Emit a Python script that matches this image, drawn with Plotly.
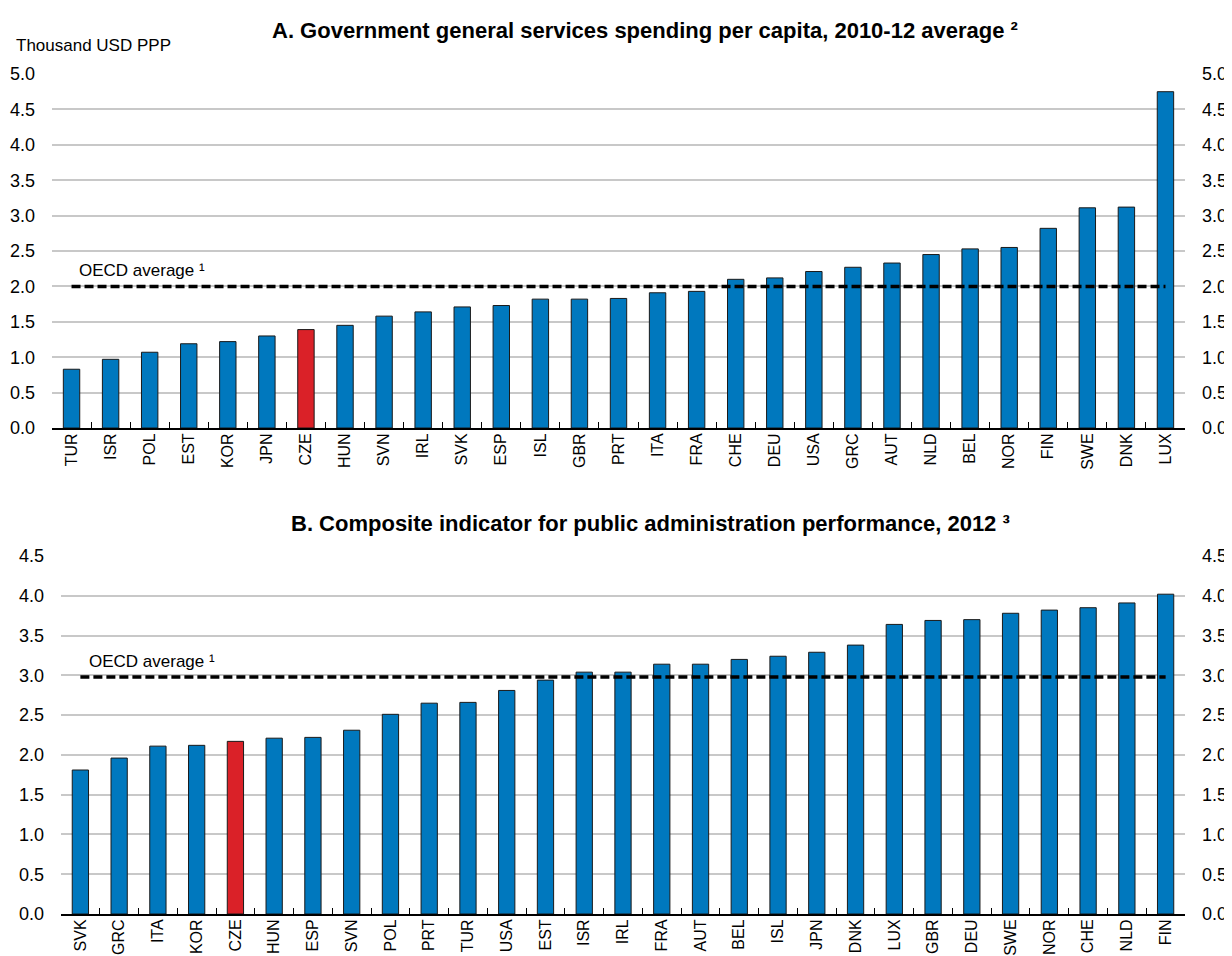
import plotly.graph_objects as go

# ---------------- data ----------------
cats_a = ["TUR", "ISR", "POL", "EST", "KOR", "JPN", "CZE", "HUN", "SVN", "IRL",
          "SVK", "ESP", "ISL", "GBR", "PRT", "ITA", "FRA", "CHE", "DEU", "USA",
          "GRC", "AUT", "NLD", "BEL", "NOR", "FIN", "SWE", "DNK", "LUX"]
vals_a = [0.83, 0.97, 1.07, 1.19, 1.22, 1.30, 1.39, 1.45, 1.58, 1.64,
          1.71, 1.73, 1.82, 1.82, 1.83, 1.91, 1.93, 2.10, 2.12, 2.21,
          2.27, 2.33, 2.45, 2.53, 2.55, 2.82, 3.11, 3.12, 4.75]
oecd_a = 2.0

cats_b = ["SVK", "GRC", "ITA", "KOR", "CZE", "HUN", "ESP", "SVN", "POL", "PRT",
          "TUR", "USA", "EST", "ISR", "IRL", "FRA", "AUT", "BEL", "ISL", "JPN",
          "DNK", "LUX", "GBR", "DEU", "SWE", "NOR", "CHE", "NLD", "FIN"]
vals_b = [1.81, 1.96, 2.11, 2.12, 2.17, 2.21, 2.22, 2.31, 2.51, 2.65,
          2.66, 2.81, 2.94, 3.04, 3.04, 3.14, 3.14, 3.20, 3.24, 3.29,
          3.38, 3.64, 3.69, 3.70, 3.78, 3.82, 3.85, 3.91, 4.02]
oecd_b = 2.98

ticks_a = [0.0, 0.5, 1.0, 1.5, 2.0, 2.5, 3.0, 3.5, 4.0, 4.5, 5.0]
ticks_b = [0.0, 0.5, 1.0, 1.5, 2.0, 2.5, 3.0, 3.5, 4.0, 4.5]

title_a = "A. Government general services spending per capita, 2010-12 average ²"
title_b = "B. Composite indicator for public administration performance, 2012 ³"
unit_a = "Thousand USD PPP"
avg_label = "OECD average ¹"

# ---------------- style ----------------
BLUE = "#0078BE"
RED = "#DA2128"
HIGHLIGHT = "CZE"
FONT = "Liberation Sans, Arial, sans-serif"
OFF = 8                     # page body margin offset
W, H = 1232 - OFF, 956 - OFF


def px_x(v):
    return (v - OFF) / W


def px_y(v):
    return 1 - (v - OFF) / H


fig = go.Figure()


def colors(cats):
    return [RED if c == HIGHLIGHT else BLUE for c in cats]


DASH = dict(color="black", width=3.5, dash="9px,4px")

fig.add_trace(go.Bar(x=cats_a, y=vals_a, xaxis="x", yaxis="y", width=0.42,
                     marker=dict(color=colors(cats_a), line=dict(color="#1a1a1a", width=1)),
                     showlegend=False, hoverinfo="x+y"))
fig.add_trace(go.Scatter(x=[cats_a[0], cats_a[-1]], y=[oecd_a, oecd_a], xaxis="x", yaxis="y3",
                         mode="lines", line=DASH, showlegend=False, hoverinfo="skip"))

fig.add_trace(go.Bar(x=cats_b, y=vals_b, xaxis="x2", yaxis="y2", width=0.42,
                     marker=dict(color=colors(cats_b), line=dict(color="#1a1a1a", width=1)),
                     showlegend=False, hoverinfo="x+y"))
fig.add_trace(go.Scatter(x=[cats_b[0], cats_b[-1]], y=[oecd_b, oecd_b], xaxis="x2", yaxis="y4",
                         mode="lines", line=DASH, showlegend=False, hoverinfo="skip"))

xa_dom = [px_x(52), px_x(1185)]
xb_dom = [px_x(61), px_x(1185)]
ya_dom = [px_y(428), px_y(74)]
yb_dom = [px_y(914), px_y(556)]


def xaxis(dom, anchor, cats):
    return dict(domain=dom, anchor=anchor, type="category", categoryorder="array",
                categoryarray=cats, range=[-0.5, len(cats) - 0.5],
                showline=True, linecolor="black", linewidth=2,
                ticks="inside", tickson="boundaries", ticklen=6, tickwidth=1.2, tickcolor="black",
                tickangle=-90, tickfont=dict(family=FONT, size=16, color="black"),
                ticklabelstandoff=-3,
                showgrid=False, zeroline=False, automargin=False, fixedrange=True)


def yaxis(dom, anchor, rng, ticks, side="left", overlay=None):
    d = dict(domain=dom, anchor=anchor, range=rng, tickvals=ticks,
             ticktext=[f"{t:.1f}" for t in ticks], side=side,
             tickfont=dict(family=FONT, size=18, color="black"),
             ticks="", ticklabelstandoff=16, zeroline=False, showline=False,
             automargin=False, fixedrange=True)
    if overlay:
        d.update(overlaying=overlay, showgrid=False)
    else:
        d.update(showgrid=True, gridcolor="#C8C8C8", gridwidth=1.5)
    return d


fig.update_layout(
    width=W, height=H,
    margin=dict(l=0, r=0, t=0, b=0),
    paper_bgcolor="white", plot_bgcolor="white",
    showlegend=False,
    xaxis=xaxis(xa_dom, "y", cats_a),
    xaxis2=xaxis(xb_dom, "y2", cats_b),
    yaxis=yaxis(ya_dom, "x", [0, 5], ticks_a),
    yaxis3=yaxis(ya_dom, "x", [0, 5], ticks_a, side="right", overlay="y"),
    yaxis2=yaxis(yb_dom, "x2", [0, 4.5], ticks_b),
    yaxis4=yaxis(yb_dom, "x2", [0, 4.5], ticks_b, side="right", overlay="y2"),
    annotations=[
        dict(text=f"<b>{title_a}</b>", xref="paper", yref="paper", x=px_x(645), y=px_y(30),
             xanchor="center", yanchor="middle", showarrow=False,
             font=dict(family=FONT, size=22, color="black")),
        dict(text=f"<b>{title_b}</b>", xref="paper", yref="paper", x=px_x(650), y=px_y(523),
             xanchor="center", yanchor="middle", showarrow=False,
             font=dict(family=FONT, size=22, color="black")),
        dict(text=unit_a, xref="paper", yref="paper", x=px_x(14), y=px_y(46),
             xanchor="left", yanchor="middle", showarrow=False,
             font=dict(family=FONT, size=17, color="black")),
        dict(text=avg_label, xref="x", yref="y", x=0.15, y=oecd_a, yshift=4,
             xanchor="left", yanchor="bottom", showarrow=False,
             font=dict(family=FONT, size=17, color="black")),
        dict(text=avg_label, xref="x2", yref="y2", x=0.17, y=oecd_b, yshift=4,
             xanchor="left", yanchor="bottom", showarrow=False,
             font=dict(family=FONT, size=17, color="black")),
    ],
)

fig.write_html("out.html")
